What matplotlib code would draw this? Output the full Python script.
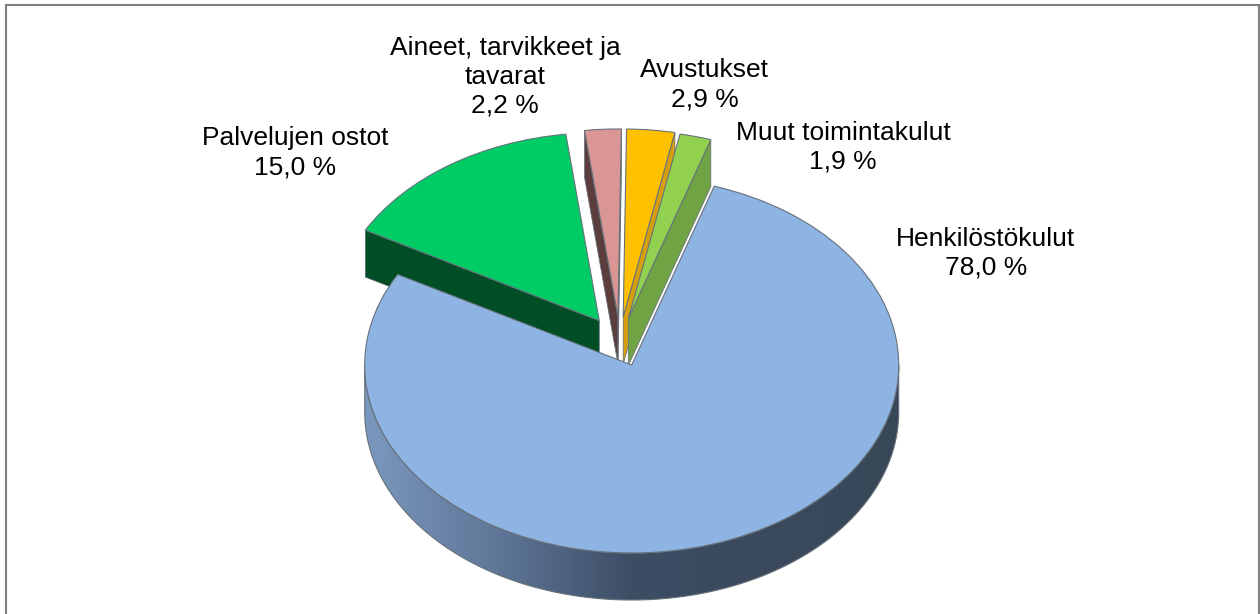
import numpy as np
import matplotlib
matplotlib.use("Agg")
import matplotlib.pyplot as plt
from matplotlib.patches import Polygon
from matplotlib.colors import LinearSegmentedColormap
from matplotlib.transforms import Affine2D
from matplotlib.lines import Line2D

# ---- data ----
categories = ["Henkilöstökulut", "Palvelujen ostot", "Aineet, tarvikkeet ja\ntavarat",
              "Avustukset", "Muut toimintakulut"]
values = [78.0, 15.0, 2.2, 2.9, 1.9]

# ---- style ----
top_colors = ["#8EB4E3", "#00CC66", "#D99694", "#FFC000", "#92D050"]
side_colors = ["#3A4A5E", "#004D26", "#5C3D3D", "#D79F0C", "#70A343"]
apex_px = [(631.7, 365.0), (599.3, 320.7), (618.0, 317.0), (623.2, 317.0), (628.3, 318.5)]
label_px = [(986, 275), (295.5, 174), (505, 113), (704.5, 106), (843, 169)]
W, H = 1260, 614
CX, CY, RX, RY = 631.7, 365.0, 267.0, 188.0
DEPTH = 47.0 / RY
START = 90 - 18
EDGE = "#66717A"
LW = 0.8
FS = 19
rim_stops = ["#7A98BE", "#5F7697", "#3D4D64", "#3A495C", "#384758"]

fig = plt.figure(figsize=(W / 100, H / 100), dpi=100, facecolor="white")
ax = fig.add_axes([0, 0, 1, 1])
wedges, _ = ax.pie(values, startangle=START, counterclock=False, colors=top_colors,
                   wedgeprops=dict(edgecolor=EDGE, linewidth=LW))
ax.set_aspect("auto")
ax.set_xlim(-CX / RX, (W - CX) / RX)
ax.set_ylim((CY - H) / RY, CY / RY)
ax.axis("off")


def to_unit(p):
    return ((p[0] - CX) / RX, (CY - p[1]) / RY)


def cut_face(c, theta, color, z):
    t = np.deg2rad(theta)
    o = (c[0] + np.cos(t), c[1] + np.sin(t))
    ax.add_patch(Polygon([c, o, (o[0], o[1] - DEPTH), (c[0], c[1] - DEPTH)], closed=True,
                         facecolor=color, edgecolor=EDGE, linewidth=LW * 0.7,
                         joinstyle="round", zorder=z))


# slices painted from the back-left forward, big blue slice last
order = [1, 2, 3, 4, 0]
for rank, i in enumerate(order):
    w = wedges[i]
    c = to_unit(apex_px[i])
    w.set_center(c)
    base = 2 * rank + 1
    w.set_zorder(base + 1)
    if i == 0:
        continue
    if np.cos(np.deg2rad(w.theta2)) < 0:
        cut_face(c, w.theta2, side_colors[i], base)
    if np.cos(np.deg2rad(w.theta1)) > 0:
        cut_face(c, w.theta1, side_colors[i], base)

# outer rim of the big slice
c0 = to_unit(apex_px[0])
t = np.deg2rad(np.linspace(180, 360, 240))
xr, yr = c0[0] + np.cos(t), c0[1] + np.sin(t)
rim_xy = np.column_stack([np.r_[xr, xr[::-1]], np.r_[yr, yr[::-1] - DEPTH]])
rim_z = 2 * order.index(0) + 0.5
rim_cmap = LinearSegmentedColormap.from_list("rim", rim_stops)
rim_edge = Polygon(rim_xy, closed=True, facecolor="none", edgecolor=EDGE, linewidth=LW,
                   transform=ax.transData, zorder=rim_z + 0.1)
ax.add_patch(rim_edge)
img = ax.imshow(np.linspace(0, 1, 256).reshape(1, -1), cmap=rim_cmap, aspect="auto",
                extent=(c0[0] - 1, c0[0] + 1, c0[1] - 1 - DEPTH, c0[1]),
                zorder=rim_z, interpolation="bilinear")
img.set_clip_path(Polygon(rim_xy, closed=True, transform=ax.transData))
ax.set_aspect("auto")
ax.set_xlim(-CX / RX, (W - CX) / RX)
ax.set_ylim((CY - H) / RY, CY / RY)

# pixel-space overlay: frame and labels
px = Affine2D().scale(1 / W, -1 / H).translate(0, 1) + fig.transFigure
for xs, ys in [((6, 6), (5, 614)), ((6, 1259), (5, 5)), ((1259, 1259), (5, 614))]:
    fig.add_artist(Line2D(xs, ys, color="#7F7F7F", linewidth=1.5, transform=px))

for name, v, (x, y) in zip(categories, values, label_px):
    txt = f"{name}\n{v:.1f} %".replace(".", ",")
    fig.text(x, y, txt, transform=px, ha="center", va="baseline", multialignment="center",
             fontsize=FS, family="Liberation Sans", color="#000000", linespacing=1.25)

fig.savefig("out.png", dpi=100, facecolor="white")
